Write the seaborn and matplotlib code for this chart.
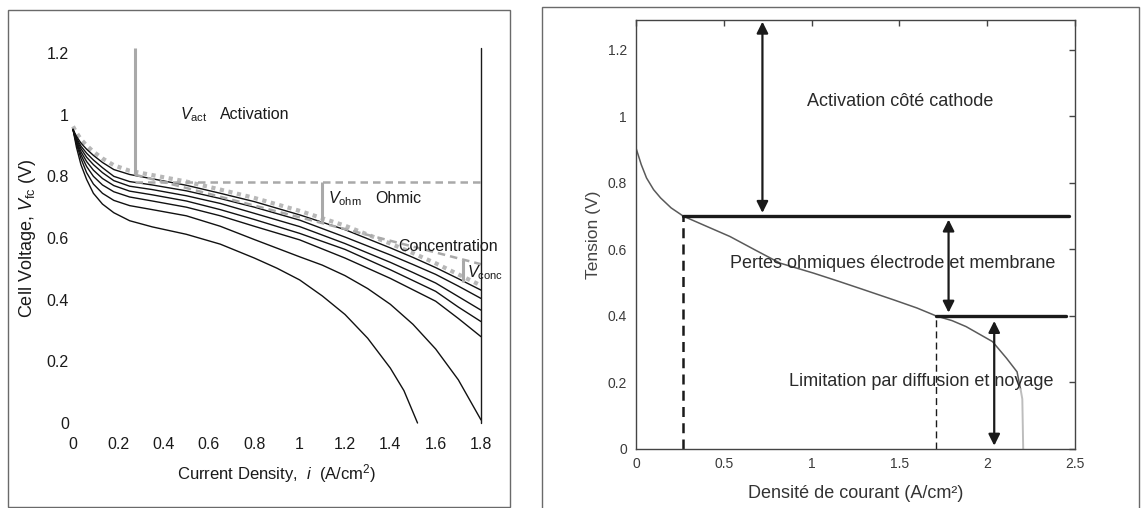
import matplotlib
matplotlib.use("Agg")
import matplotlib.pyplot as plt
from matplotlib.patches import Rectangle
import pandas as pd
import seaborn as sns

# ---------------- Left panel: family of polarization curves ----------------
current_grid = [0.0, 0.015, 0.035, 0.06, 0.09, 0.13, 0.18, 0.25, 0.35, 0.5,
                0.65, 0.8, 1.0, 1.2, 1.4, 1.5, 1.6, 1.7, 1.8]
voltage_c1 = [0.952, 0.930, 0.908, 0.888, 0.868, 0.845, 0.822, 0.806, 0.792, 0.771,
              0.745, 0.718, 0.675, 0.627, 0.568, 0.537, 0.504, 0.468, 0.431]
voltage_c2 = [0.952, 0.925, 0.898, 0.875, 0.853, 0.828, 0.800, 0.783, 0.772, 0.753,
              0.728, 0.700, 0.658, 0.603, 0.545, 0.514, 0.482, 0.444, 0.404]
voltage_c3 = [0.952, 0.920, 0.890, 0.862, 0.838, 0.812, 0.786, 0.768, 0.757, 0.737,
              0.712, 0.680, 0.637, 0.582, 0.521, 0.488, 0.454, 0.410, 0.366]
voltage_c4 = [0.952, 0.915, 0.880, 0.848, 0.820, 0.793, 0.770, 0.752, 0.740, 0.720,
              0.692, 0.660, 0.615, 0.563, 0.497, 0.462, 0.427, 0.376, 0.329]
voltage_c5 = [0.952, 0.910, 0.870, 0.832, 0.800, 0.772, 0.750, 0.733, 0.720, 0.700,
              0.672, 0.638, 0.594, 0.535, 0.469, 0.432, 0.395, 0.339, 0.280]
current_c6 = [0.0, 0.015, 0.035, 0.06, 0.09, 0.13, 0.18, 0.25, 0.35, 0.5, 0.65, 0.8,
              1.0, 1.1, 1.2, 1.3, 1.4, 1.5, 1.6, 1.7, 1.8]
voltage_c6 = [0.952, 0.905, 0.858, 0.812, 0.775, 0.745, 0.722, 0.705, 0.692, 0.672,
              0.638, 0.595, 0.539, 0.512, 0.478, 0.436, 0.385, 0.320, 0.240, 0.140, 0.010]
current_c7 = [0.0, 0.015, 0.035, 0.06, 0.09, 0.13, 0.18, 0.25, 0.35, 0.5, 0.65, 0.8,
              0.9, 1.0, 1.1, 1.2, 1.3, 1.4, 1.46, 1.52]
voltage_c7 = [0.952, 0.895, 0.838, 0.790, 0.745, 0.710, 0.682, 0.656, 0.636, 0.612,
              0.580, 0.535, 0.502, 0.464, 0.412, 0.352, 0.275, 0.178, 0.105, 0.0]
# idealised envelope drawn as a thick grey dotted curve
voltage_ideal = [0.962, 0.942, 0.920, 0.900, 0.880, 0.858, 0.836, 0.818, 0.804, 0.783,
                 0.757, 0.730, 0.688, 0.640, 0.582, 0.551, 0.518, 0.482, 0.446]

act_current, act_top, act_bottom = 0.275, 1.2, 0.805
act_level = 0.78
ohmic_current = [0.275, 1.8]
ohmic_voltage = [0.805, 0.515]
ohm_marker_current, ohm_marker_voltage = 1.1, [0.78, 0.649]
conc_marker_current, conc_marker_voltage = 1.72, [0.530, 0.458]
limit_current = 1.8

left_xticks = [0, 0.2, 0.4, 0.6, 0.8, 1.0, 1.2, 1.4, 1.6, 1.8]
left_xlabels = ["0", "0.2", "0.4", "0.6", "0.8", "1", "1.2", "1.4", "1.6", "1.8"]
left_yticks = [0, 0.2, 0.4, 0.6, 0.8, 1.0, 1.2]
left_ylabels = ["0", "0.2", "0.4", "0.6", "0.8", "1", "1.2"]

# ---------------- Right panel: single measured curve ----------------
right_current = [0.0, 0.03, 0.06, 0.1, 0.14, 0.2, 0.27, 0.4, 0.535, 0.68, 0.82,
                 1.01, 1.15, 1.28, 1.47, 1.6, 1.71, 1.8, 1.88, 1.96, 2.03, 2.11,
                 2.17, 2.19]
right_voltage = [0.905, 0.855, 0.815, 0.780, 0.755, 0.725, 0.700, 0.670, 0.639, 0.598,
                 0.559, 0.529, 0.505, 0.482, 0.448, 0.424, 0.400, 0.386, 0.368, 0.344,
                 0.323, 0.273, 0.232, 0.180]
tail_current = [2.19, 2.20, 2.205]
tail_voltage = [0.180, 0.150, 0.0]

knee_act = (0.27, 0.70)
knee_diff = (1.71, 0.40)
act_line_end = 2.465
diff_line_end = 2.45

right_xticks = [0, 0.5, 1.0, 1.5, 2.0, 2.5]
right_xlabels = ["0", "0.5", "1", "1.5", "2", "2.5"]
right_yticks = [0, 0.2, 0.4, 0.6, 0.8, 1.0, 1.2]
right_ylabels = ["0", "0.2", "0.4", "0.6", "0.8", "1", "1.2"]

# ---------------- style ----------------
sns.set_theme(style="white")
plt.rcParams["font.family"] = ["Liberation Sans", "DejaVu Sans"]
plt.rcParams["mathtext.fontset"] = "custom"
plt.rcParams["mathtext.rm"] = "Liberation Sans"
plt.rcParams["mathtext.it"] = "Liberation Sans:italic"

W, H = 1141, 508
fig = plt.figure(figsize=(W / 100, H / 100), dpi=100)
fig.patch.set_facecolor("white")

# panel frames
fig.add_artist(Rectangle((8 / W, 1 / H), 502 / W, 497 / H, transform=fig.transFigure,
                         fill=False, edgecolor="#6a6a6a", lw=1.0))
fig.add_artist(Rectangle((542 / W, -0.02), 597 / W, (501 / H) + 0.02,
                         transform=fig.transFigure, fill=False, edgecolor="#6a6a6a", lw=1.0))

# ---------------- left axes ----------------
axL = fig.add_axes([73 / W, (H - 423) / H, 408 / W, 370 / H])
axL.set_xlim(0, 1.8)
axL.set_ylim(0, 1.2)
for s in axL.spines.values():
    s.set_visible(False)

curves = [(current_grid, voltage_c1), (current_grid, voltage_c2), (current_grid, voltage_c3),
          (current_grid, voltage_c4), (current_grid, voltage_c5), (current_c6, voltage_c6),
          (current_c7, voltage_c7)]
frames = []
for k, (cur, volt) in enumerate(curves, start=1):
    frames.append(pd.DataFrame({"i": cur, "V": volt, "curve": f"c{k}"}))
df_left = pd.concat(frames, ignore_index=True)

grey = "#a9a9a9"
sns.lineplot(x=current_grid, y=voltage_ideal, color="#b8b8b8", lw=3.0,
             linestyle=(0, (1, 1.1)), ax=axL, clip_on=False)
sns.lineplot(data=df_left, x="i", y="V", hue="curve", palette=["#111111"] * 7,
             lw=1.0, legend=False, estimator=None, sort=False, ax=axL, clip_on=False)

# loss markers
axL.plot([act_current, act_current], [act_top + 0.015, act_bottom], color=grey, lw=2.2,
         solid_capstyle="butt", clip_on=False)
axL.plot([act_current, limit_current], [act_level, act_level], color=grey, lw=1.8,
         linestyle=(0, (3, 2)), clip_on=False)
axL.plot(ohmic_current, ohmic_voltage, color=grey, lw=1.8, linestyle=(0, (3, 2)),
         clip_on=False)
axL.plot([ohm_marker_current, ohm_marker_current], ohm_marker_voltage, color=grey, lw=2.2,
         solid_capstyle="butt")
axL.plot([conc_marker_current, conc_marker_current], conc_marker_voltage, color=grey, lw=2.2,
         solid_capstyle="butt")
axL.plot([limit_current, limit_current], [0.0, 1.215], color="#1a1a1a", lw=1.0,
         clip_on=False)

txt = dict(fontsize=11.5, color="#1a1a1a", va="center", ha="left")
axL.text(0.47, 1.0, r"$V_{\mathrm{act}}$", **txt)
axL.text(0.648, 1.0, "Activation", **txt)
axL.text(1.126, 0.729, r"$V_{\mathrm{ohm}}$", **txt)
axL.text(1.332, 0.729, "Ohmic", **txt)
axL.text(1.435, 0.572, "Concentration", **txt)
axL.text(1.737, 0.486, r"$V_{\mathrm{conc}}$", **txt)

axL.set_xticks(left_xticks)
axL.set_xticklabels(left_xlabels)
axL.set_yticks(left_yticks)
axL.set_yticklabels(left_ylabels)
axL.tick_params(axis="x", length=0, pad=10, labelsize=11.5, labelcolor="#1a1a1a")
axL.tick_params(axis="y", length=0, pad=3, labelsize=11.5, labelcolor="#1a1a1a")
axL.set_xlabel(r"Current Density,  $i$  (A/cm$^{2}$)", fontsize=12, color="#1a1a1a",
               labelpad=7)
axL.set_ylabel(r"Cell Voltage, $V_{\mathrm{fc}}$ (V)", fontsize=13, color="#1a1a1a",
               labelpad=6)

# ---------------- right axes ----------------
axR = fig.add_axes([636 / W, (H - 449) / H, 439 / W, 429 / H])
axR.set_xlim(0, 2.5)
axR.set_ylim(0, 1.29)
for s in axR.spines.values():
    s.set_visible(True)
    s.set_color("#444444")
    s.set_linewidth(1.0)

sns.lineplot(x=right_current, y=right_voltage, color="#5a5a5a", lw=1.1,
             estimator=None, sort=False, ax=axR)
sns.lineplot(x=tail_current, y=tail_voltage, color="#bdbdbd", lw=1.4,
             estimator=None, sort=False, ax=axR)

dark = "#1a1a1a"
axR.plot([knee_act[0], act_line_end], [knee_act[1], knee_act[1]], color=dark, lw=2.4,
         clip_on=False)
axR.plot([knee_diff[0], diff_line_end], [knee_diff[1], knee_diff[1]], color=dark, lw=2.4,
         clip_on=False)
axR.plot([knee_act[0], knee_act[0]], [0, knee_act[1]], color=dark, lw=1.8,
         linestyle=(0, (4, 2.5)))
axR.plot([knee_diff[0], knee_diff[0]], [0, knee_diff[1]], color=dark, lw=1.0,
         linestyle=(0, (5, 3)))

arrow = dict(arrowstyle="<|-|>", color=dark, lw=1.6, mutation_scale=17,
             shrinkA=0, shrinkB=0)
axR.annotate("", xy=(0.72, 0.71), xytext=(0.72, 1.285), arrowprops=arrow)
axR.annotate("", xy=(1.78, 0.41), xytext=(1.78, 0.69), arrowprops=arrow)
axR.annotate("", xy=(2.04, 0.01), xytext=(2.04, 0.385), arrowprops=arrow)

rtxt = dict(fontsize=13, color="#2a2a2a", va="center", ha="center")
axR.text(1.505, 1.046, "Activation côté cathode", **rtxt)
axR.text(1.461, 0.559, "Pertes ohmiques électrode et membrane", **rtxt)
axR.text(1.625, 0.202, "Limitation par diffusion et noyage", **rtxt)

axR.set_xticks(right_xticks)
axR.set_xticklabels(right_xlabels)
axR.set_yticks(right_yticks)
axR.set_yticklabels(right_ylabels)
axR.tick_params(axis="both", direction="in", length=4, width=1.0, color="#444444",
                top=True, right=True, labelsize=10, labelcolor="#3a3a3a")
axR.tick_params(axis="x", pad=5.5)
axR.tick_params(axis="y", pad=6.5)
axR.set_xlabel("Densité de courant (A/cm²)", fontsize=13, color="#333333", labelpad=10)
axR.set_ylabel("Tension (V)", fontsize=12.5, color="#444444", labelpad=5)

fig.savefig("out.png", dpi=100, facecolor="white")
